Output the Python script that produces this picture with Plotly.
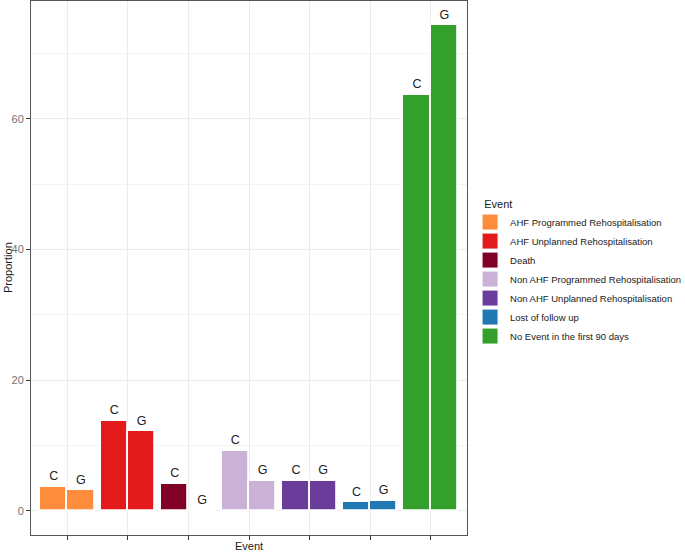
import plotly.graph_objects as go

events = [
    "AHF Programmed Rehospitalisation",
    "AHF Unplanned Rehospitalisation",
    "Death",
    "Non AHF Programmed Rehospitalisation",
    "Non AHF Unplanned Rehospitalisation",
    "Lost of follow up",
    "No Event in the first 90 days",
]
colors = ["#FD8D3C", "#E31A1C", "#800026", "#CAB2D6", "#6A3D9A", "#1F78B4", "#33A02C"]
groups = ["C", "G"]
c_vals = [3.66, 13.74, 4.17, 9.2, 4.58, 1.31, 63.66]
g_vals = [3.1, 12.15, 0.0, 4.58, 4.58, 1.53, 74.35]
y_ticks = [0, 20, 40, 60]

FONT = "Liberation Sans, Arial, sans-serif"
pos = list(range(1, len(events) + 1))
bar_w = 0.45
x_c = [p - bar_w / 2 for p in pos]
x_g = [p + bar_w / 2 for p in pos]

fig = go.Figure()
for xs, vals, grp in [(x_c, c_vals, groups[0]), (x_g, g_vals, groups[1])]:
    fig.add_trace(go.Bar(
        x=xs, y=vals, width=bar_w,
        marker=dict(color=colors, line=dict(color="white", width=1.8)),
        showlegend=False, hoverinfo="y", name=grp,
    ))
    fig.add_trace(go.Scatter(
        x=xs, y=vals, mode="markers+text", text=[grp] * len(vals),
        textposition="top center",
        marker=dict(size=4, opacity=0),
        textfont=dict(family=FONT, size=12.5, color="#222222"),
        showlegend=False, hoverinfo="skip", cliponaxis=False,
    ))

for ev, col in zip(events, colors):
    fig.add_trace(go.Scatter(
        x=[None], y=[None], mode="markers", name=ev,
        marker=dict(symbol="square", size=16, color=col, line=dict(color="white", width=1)),
        showlegend=True,
    ))

ymax = max(max(c_vals), max(g_vals))
fig.update_layout(
    width=685, height=552,
    margin=dict(l=31, r=218, t=1, b=17, autoexpand=False),
    paper_bgcolor="white", plot_bgcolor="white",
    font=dict(family=FONT, color="#4D4D4D"),
    bargap=0,
    showlegend=True,
    legend=dict(
        title=dict(text="&nbsp;&nbsp;&nbsp;&nbsp;Event", font=dict(family=FONT, size=11, color="#1A1A1A")),
        font=dict(family=FONT, size=9.5, color="#1A1A1A"),
        x=1.007, xref="paper", xanchor="left", y=0.492, yanchor="middle",
        itemsizing="trace", tracegroupgap=0,
        bgcolor="rgba(0,0,0,0)",
    ),
    xaxis=dict(
        range=[0.4, len(events) + 0.6],
        tickvals=pos, showticklabels=False,
        ticks="outside", ticklen=4, tickcolor="#333333",
        showgrid=True, gridcolor="#EBEBEB", gridwidth=1,
        showline=True, linecolor="#555555", linewidth=1, mirror=True,
        zeroline=False, fixedrange=True, automargin=False,
    ),
    yaxis=dict(
        range=[-0.05 * ymax, 1.05 * ymax],
        tickvals=y_ticks,
        ticks="outside", ticklen=4, tickcolor="#333333",
        tickfont=dict(family=FONT, size=11, color="#707070"),
        showgrid=True, gridcolor="#EBEBEB", gridwidth=1,
        minor=dict(dtick=10, tick0=0, showgrid=True, gridcolor="#F2F2F2", gridwidth=0.6),
        showline=True, linecolor="#555555", linewidth=1, mirror=True,
        zeroline=False, fixedrange=True, automargin=False,
    ),
    annotations=[
        dict(text="Event", xref="paper", yref="paper", x=0.5, y=0, yshift=-11,
             showarrow=False, xanchor="center", yanchor="middle", borderpad=0,
             font=dict(family=FONT, size=11, color="#1A1A1A")),
        dict(text="Proportion", xref="paper", yref="paper", x=0, y=0.5, xshift=-23,
             showarrow=False, textangle=-90, xanchor="center", yanchor="middle",
             font=dict(family=FONT, size=11, color="#1A1A1A")),
    ],
)

fig.write_html("out.html", config={"displayModeBar": False},
               post_script="document.body.style.margin='0';")
